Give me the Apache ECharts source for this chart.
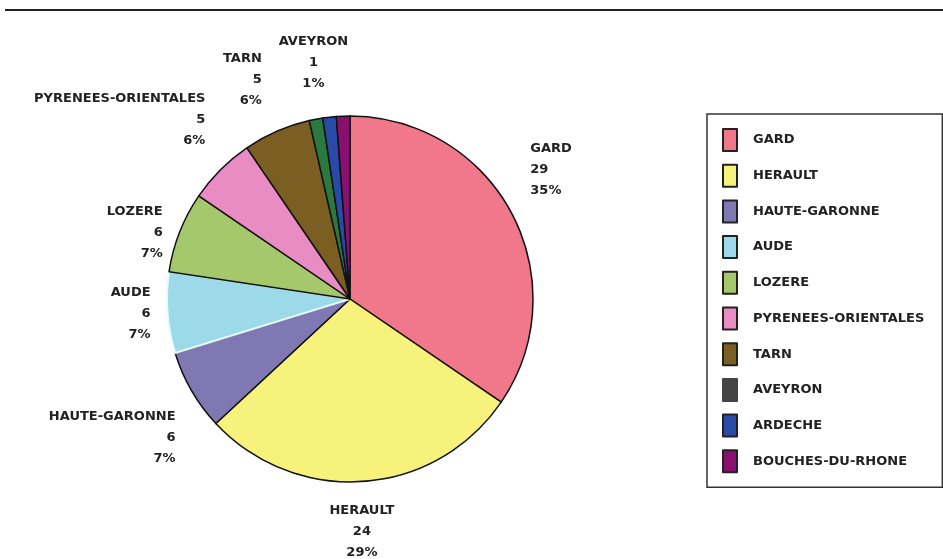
<!DOCTYPE html>
<html>
<head>
<meta charset="utf-8">
<script src="https://cdn.jsdelivr.net/npm/echarts@6/dist/echarts.min.js"></script>
<style>
  html, body { margin: 0; padding: 0; background: #fff; }
  #chart { width: 943px; height: 559px; }
</style>
</head>
<body>
<div id="chart"></div>
<script>
// departements et nombre de cas
const categories = ['GARD', 'HERAULT', 'HAUTE-GARONNE', 'AUDE', 'LOZERE', 'PYRENEES-ORIENTALES', 'TARN', 'AVEYRON', 'ARDECHE', 'BOUCHES-DU-RHONE']
const values = [29, 24, 6, 6, 6, 5, 5, 1, 1, 1]
const colors = ['#f0788a', '#f6f27c', '#7f78b2', '#9cd9e9', '#a6c86c', '#ea8cc4', '#7a5e22', '#2a7a40', '#2a4aa8', '#8a1070']
// the two last slices have no label on the pie
const hiddenLabels = ['ARDECHE', 'BOUCHES-DU-RHONE']

// small nudges so the labels sit like in the original (dx, dy, align)
const labelNudge = [
  [-13, -30], [-9, 20, 'center'], [15, 32], [18, -1], [16, 11],
  [11, -29], [2, -24], [8, -27, 'center'], [0, 0], [0, 0]
]

const chart = echarts.init(document.getElementById('chart'))

const textStyle = {
  fontFamily: 'DejaVu Sans',
  fontWeight: 'bold',
  fontSize: 13,
  color: '#222'
}

chart.setOption({
  animation: false,
  backgroundColor: '#fff',
  graphic: [{
    type: 'line',
    shape: { x1: 5, y1: 10, x2: 943, y2: 10 },
    style: { stroke: '#222', lineWidth: 2 }
  }],
  legend: {
    orient: 'vertical',
    left: 707,
    top: 114,
    padding: [14, 18, 14, 15],
    itemWidth: 14,
    itemHeight: 22,
    itemGap: 11.7,
    borderColor: '#333',
    borderWidth: 1.5,
    icon: 'rect',
    itemStyle: { borderColor: '#222', borderWidth: 2 },
    textStyle: Object.assign({}, textStyle, { padding: [0, 0, 0, 11] }),
    data: categories.map((name, i) => ({
      name: name,
      // aveyron is grey in the legend
      itemStyle: name === 'AVEYRON' ? { color: '#444', borderColor: '#444' } : undefined
    }))
  },
  series: [{
    type: 'pie',
    center: [350, 299],
    radius: 183,
    startAngle: 90,
    clockwise: true,
    percentPrecision: 0,
    avoidLabelOverlap: false,
    itemStyle: { borderColor: '#111', borderWidth: 1.5 },
    label: Object.assign({}, textStyle, {
      show: true,
      position: 'outside',
      lineHeight: 21,
      formatter: '{b}\n{c}\n{d}%'
    }),
    labelLine: { show: false, length: 30, length2: 0 },
    labelLayout: function (p) {
      const n = labelNudge[p.dataIndex]
      const out = { dx: n[0], dy: n[1], hideOverlap: false, moveOverlap: false }
      if (n[2]) out.align = n[2]
      return out
    },
    emphasis: { disabled: true },
    data: categories.map((name, i) => ({
      name: name,
      value: values[i],
      itemStyle: name === 'AUDE'
        ? { color: colors[i], borderColor: '#e6fbff', borderWidth: 2 }
        : { color: colors[i] },
      label: { show: hiddenLabels.indexOf(name) < 0 }
    }))
  }]
})
</script>
</body>
</html>
